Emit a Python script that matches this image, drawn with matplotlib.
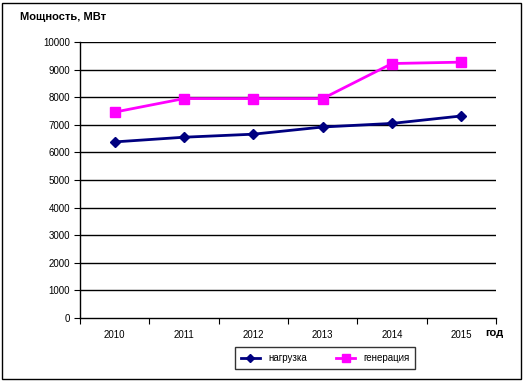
import matplotlib
matplotlib.use("Agg")
import matplotlib.pyplot as plt
from matplotlib.patches import Rectangle

plt.rcParams["font.family"] = ["Liberation Sans", "DejaVu Sans"]

years = ["2010", "2011", "2012", "2013", "2014", "2015"]
load = [6380, 6550, 6660, 6920, 7050, 7320]
generation = [7460, 7950, 7950, 7950, 9220, 9270]
yticks = [0, 1000, 2000, 3000, 4000, 5000, 6000, 7000, 8000, 9000, 10000]

W, H = 526, 382
fig = plt.figure(figsize=(W / 100, H / 100), dpi=100)
fig.patches.append(Rectangle((2 / W, 3 / H), 519 / W, 376 / H, transform=fig.transFigure,
                             fill=False, edgecolor="black", linewidth=1))

ax = fig.add_axes([80 / W, 1 - 318 / H, 416 / W, 276 / H])
x = list(range(len(years)))
ax.plot(x, load, color="#000080", marker="D", markersize=5, linewidth=2, label="нагрузка")
ax.plot(x, generation, color="#FF00FF", marker="s", markersize=7, linewidth=2, label="генерация")

ax.set_xlim(-0.5, len(years) - 0.5)
ax.set_ylim(0, 10000)
ax.set_yticks(yticks)
ax.set_yticklabels([str(v) for v in yticks], fontsize=7)
for v in yticks[1:]:
    ax.axhline(v, color="black", linewidth=1, zorder=0)

ax.set_xticks([i - 0.5 for i in range(len(years) + 1)])
ax.set_xticklabels([])
ax.set_xticks(x, minor=True)
ax.set_xticklabels(years, minor=True, fontsize=7)
ax.tick_params(axis="x", which="minor", length=0, pad=9)
ax.tick_params(axis="x", which="major", length=4, direction="out")
ax.tick_params(axis="y", length=4, direction="out", pad=3)

for s in ["top", "right"]:
    ax.spines[s].set_visible(False)
ax.spines["left"].set_linewidth(1)
ax.spines["bottom"].set_linewidth(1)

fig.text(20 / W, 1 - 17 / H, "Мощность, МВт", fontsize=8, fontweight="bold", va="center", ha="left")
fig.text(485 / W, 1 - 333 / H, "год", fontsize=8, fontweight="bold", va="center", ha="left")

leg = ax.legend(loc="center", bbox_to_anchor=(325 / W, 1 - 358 / H), bbox_transform=fig.transFigure,
                ncol=2, fontsize=7, frameon=True, fancybox=False, edgecolor="black",
                handlelength=2.0, columnspacing=3, borderpad=0.6, markerscale=0.8)
leg.get_frame().set_linewidth(1)

fig.savefig("out.png", dpi=100)
